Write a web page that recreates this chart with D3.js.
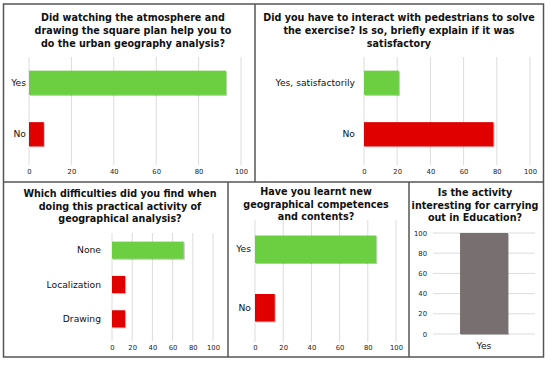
<!DOCTYPE html>
<html>
<head>
<meta charset="utf-8">
<script src="https://cdn.jsdelivr.net/npm/d3@7"></script>
<style>
  body { margin: 0; background: #fff; }
  text { font-family: "DejaVu Sans", Verdana, sans-serif; }
</style>
</head>
<body>
<svg id="chart" width="550" height="365"></svg>
<script>
// ----- data, one block per question -----
const q1Title = ["Did watching the atmosphere and", "drawing the square plan help you to", "do the urban geography analysis?"];
const q1Categories = ["Yes", "No"];
const q1Values = [93, 7];

const q2Title = ["Did you have to interact with pedestrians to solve", "the exercise? Is so, briefly explain if it was", "satisfactory"];
const q2Categories = ["Yes, satisfactorily", "No"];
const q2Values = [21, 78];

const q3Title = ["Which difficulties did you find when", "doing this practical activity of", "geographical analysis?"];
const q3Categories = ["None", "Localization", "Drawing"];
const q3Values = [71, 13, 13];

const q4Title = ["Have you learnt new", "geographical competences", "and contents?"];
const q4Categories = ["Yes", "No"];
const q4Values = [86, 14];

const q5Title = ["Is the activity", "interesting for carrying", "out in Education?"];
const q5Categories = ["Yes"];
const q5Values = [100];

const tickValues = [0, 20, 40, 60, 80, 100];

const GREEN = "#6ccf42";
const RED = "#e00000";
const GREY_BAR = "#786f70";
const GRID = "#dcdcdc";

const svg = d3.select("#chart");

// drop shadow like the office chart bars
const defs = svg.append("defs");
const f = defs.append("filter").attr("id", "shadow")
  .attr("x", "-10%").attr("y", "-10%").attr("width", "130%").attr("height", "140%");
f.append("feDropShadow").attr("dx", 1).attr("dy", 1).attr("stdDeviation", 0.6)
  .attr("flood-color", "#000").attr("flood-opacity", 0.25);

function drawTitle(lines, cx, y0, lh) {
  const t = svg.append("text")
    .attr("text-anchor", "middle")
    .style("font-size", "9.6px")
    .style("font-weight", "bold")
    .style("fill", "#111");
  lines.forEach((l, i) => {
    t.append("tspan").attr("x", cx).attr("y", y0 + i * lh).text(l);
  });
}

// horizontal bar panel
function hbar(cfg) {
  const x = d3.scaleLinear().domain([0, 100]).range(cfg.xr);
  const y = d3.scaleBand().domain(cfg.cats).range(cfg.yr)
    .paddingInner(cfg.pad).paddingOuter(cfg.pad / 2);

  const g = svg.append("g");

  // gridlines
  g.selectAll(".grid").data(tickValues).enter().append("line")
    .attr("x1", d => x(d)).attr("x2", d => x(d))
    .attr("y1", cfg.yr[0]).attr("y2", cfg.yr[1] + 5)
    .attr("stroke", GRID).attr("stroke-width", 1);

  g.selectAll("rect").data(cfg.vals).enter().append("rect")
    .attr("x", x(0))
    .attr("y", (d, i) => y(cfg.cats[i]))
    .attr("width", d => x(d) - x(0))
    .attr("height", y.bandwidth())
    .attr("fill", (d, i) => i === 0 ? GREEN : RED)
    .attr("filter", "url(#shadow)");

  // category labels
  g.selectAll(".cat").data(cfg.cats).enter().append("text")
    .attr("x", cfg.labelX)
    .attr("y", d => y(d) + y.bandwidth() / 2)
    .attr("dy", "0.35em")
    .attr("text-anchor", "end")
    .style("font-size", "9.2px")
    .style("fill", "#111")
    .text(d => d);

  // x axis tick labels
  const ax = g.append("g")
    .attr("transform", `translate(0,${cfg.tickY})`)
    .call(d3.axisBottom(x).tickValues(tickValues).tickSize(0).tickPadding(0));
  ax.select(".domain").remove();
  ax.selectAll("text")
    .attr("dy", "0.35em")
    .style("font-family", "DejaVu Sans, sans-serif")
    .style("font-size", "6.8px")
    .style("fill", "#222");

  drawTitle(cfg.title, cfg.titleX, cfg.titleY, cfg.titleLH);
}

hbar({ title: q1Title, cats: q1Categories, vals: q1Values,
  xr: [29, 241], yr: [57, 160], pad: 0.53, labelX: 26, tickY: 172,
  titleX: 133, titleY: 21, titleLH: 13 });

hbar({ title: q2Title, cats: q2Categories, vals: q2Values,
  xr: [364, 530], yr: [57, 160], pad: 0.53, labelX: 355, tickY: 172,
  titleX: 399, titleY: 21, titleLH: 13 });

hbar({ title: q3Title, cats: q3Categories, vals: q3Values,
  xr: [112, 213], yr: [233, 336], pad: 0.5, labelX: 101, tickY: 348,
  titleX: 120, titleY: 197, titleLH: 12.5 });

hbar({ title: q4Title, cats: q4Categories, vals: q4Values,
  xr: [255, 396], yr: [220, 337], pad: 0.53, labelX: 251, tickY: 348,
  titleX: 316, titleY: 195, titleLH: 12.5 });

// ----- panel 5: vertical column -----
{
  const x = d3.scaleBand().domain(q5Categories).range([433, 535])
    .paddingInner(0.53).paddingOuter(0.265);
  const y = d3.scaleLinear().domain([0, 100]).range([334, 233]);
  const g = svg.append("g");

  g.selectAll(".grid").data(tickValues).enter().append("line")
    .attr("x1", 433).attr("x2", 535)
    .attr("y1", d => y(d)).attr("y2", d => y(d))
    .attr("stroke", GRID).attr("stroke-width", 1);

  g.selectAll("rect").data(q5Values).enter().append("rect")
    .attr("x", (d, i) => x(q5Categories[i]))
    .attr("y", d => y(d))
    .attr("width", x.bandwidth())
    .attr("height", d => y(0) - y(d))
    .attr("fill", GREY_BAR)
    .attr("filter", "url(#shadow)");

  const ay = g.append("g")
    .attr("transform", "translate(427,0)")
    .call(d3.axisLeft(y).tickValues(tickValues).tickSize(0).tickPadding(0));
  ay.select(".domain").remove();
  ay.selectAll("text")
    .style("font-family", "DejaVu Sans, sans-serif")
    .style("font-size", "6.8px")
    .style("fill", "#222");

  g.selectAll(".cat").data(q5Categories).enter().append("text")
    .attr("x", d => x(d) + x.bandwidth() / 2)
    .attr("y", 346).attr("dy", "0.35em")
    .attr("text-anchor", "middle")
    .style("font-size", "9.2px")
    .style("fill", "#111")
    .text(d => d);

  drawTitle(q5Title, 475, 196, 12.5);
}

// ----- panel frames -----
const frame = svg.append("g")
  .attr("fill", "none").attr("stroke", "#555").attr("stroke-width", 1.5);
frame.append("rect").attr("x", 3.5).attr("y", 4).attr("width", 540).attr("height", 353);
frame.append("line").attr("x1", 3.5).attr("x2", 543.5).attr("y1", 182).attr("y2", 182);
frame.append("line").attr("x1", 255).attr("x2", 255).attr("y1", 4).attr("y2", 182);
frame.append("line").attr("x1", 228).attr("x2", 228).attr("y1", 182).attr("y2", 357);
frame.append("line").attr("x1", 409).attr("x2", 409).attr("y1", 182).attr("y2", 357);
</script>
</body>
</html>
